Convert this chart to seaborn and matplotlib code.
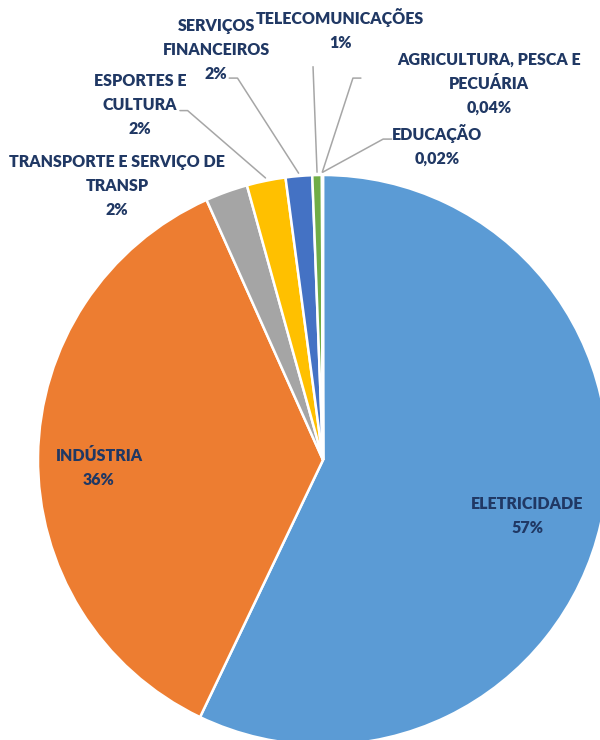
import numpy as np
import matplotlib.pyplot as plt
import seaborn as sns

sns.set_theme(style="white")
plt.rcParams['font.family'] = ['Lato', 'DejaVu Sans']

# dados do grafico
setores = ["ELETRICIDADE", "INDÚSTRIA", "TRANSPORTE E SERVIÇO DE\nTRANSP",
           "ESPORTES E\nCULTURA", "SERVIÇOS\nFINANCEIROS", "TELECOMUNICAÇÕES",
           "AGRICULTURA, PESCA E\nPECUÁRIA", "EDUCAÇÃO"]
participacao = [57.1, 36.2, 2.4, 2.2, 1.5, 0.54, 0.04, 0.02]
rotulos_pct = ["57%", "36%", "2%", "2%", "2%", "1%", "0,04%", "0,02%"]
cores = ["#5B9BD5", "#ED7D31", "#A5A5A5", "#FFC000", "#4472C4", "#70AD47",
         "#255E91", "#9E480E"]

# posicao dos rotulos (layout, em unidades do raio)
pos_rotulos = [(0.716, -0.196), (-0.786, -0.028), (-0.723, 0.961), (-0.642, 1.246),
               (-0.375, 1.439), (0.06, 1.512), (0.582, 1.319), (0.40, 1.105)]
# ponto de inicio da linha guia (None = sem linha) e lado do pequeno traco horizontal
inicio_guia = [None, None, None, (-0.475, 1.226), (-0.300, 1.340), (-0.035, 1.380),
               (0.105, 1.340), (0.211, 1.126)]
traco = [0, 0, 0, -0.027, -0.029, 0, 0.028, 0.030]

fig = plt.figure(figsize=(6, 7.4), dpi=100)
ax = fig.add_axes([38 / 600, -5 / 740, 570 / 600, 570 / 740])

wedges, _ = ax.pie(participacao, colors=cores, startangle=90, counterclock=False,
                   wedgeprops=dict(edgecolor="white", linewidth=1.8))
ax.set_xlim(-1, 1)
ax.set_ylim(-1, 1)
ax.set_aspect("equal")
ax.axis("off")

cor_texto = "#203864"
cor_guia = "#A6A6A6"
for i, w in enumerate(wedges):
    x, y = pos_rotulos[i]
    ax.text(x, y, setores[i] + "\n" + rotulos_pct[i], ha="center", va="center",
            fontsize=11.5, fontweight="heavy", color=cor_texto, linespacing=1.62,
            clip_on=False)
    if inicio_guia[i] is not None:
        ang = np.deg2rad((w.theta1 + w.theta2) / 2)
        px, py = 1.01 * np.cos(ang), 1.01 * np.sin(ang)
        sx, sy = inicio_guia[i]
        xs = [sx + traco[i], sx, px] if traco[i] else [sx, px]
        ys = [sy, sy, py] if traco[i] else [sy, py]
        ax.plot(xs, ys, color=cor_guia, lw=1.1, clip_on=False)

fig.savefig("out.png", dpi=100)
